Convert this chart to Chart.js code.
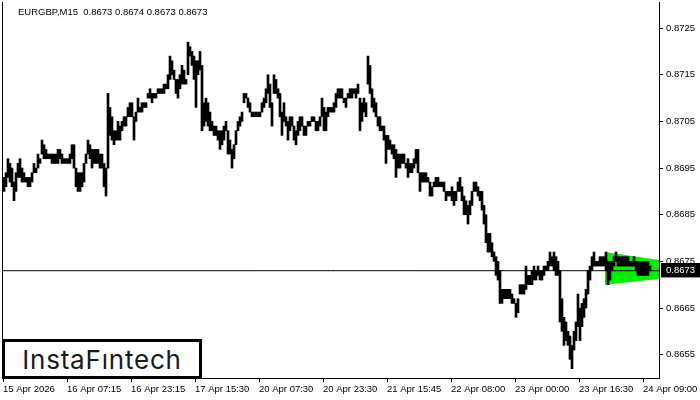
<!DOCTYPE html>
<html>
<head>
<meta charset="utf-8">
<script src="https://cdn.jsdelivr.net/npm/chart.js@4.4.1/dist/chart.umd.min.js"></script>
<style>
  body { margin: 0; background: #fff; }
  .wrap { position: relative; width: 700px; height: 400px; }
  #header { position: absolute; left: 18px; top: 6px; font: 9.5px "Liberation Sans", Arial, sans-serif; white-space: pre; color: #000; }
  #logo { position: absolute; left: 2px; top: 339px; width: 200px; height: 40px; box-sizing: border-box;
          border: 3px solid #000; background: #fff; color: #1a1a1a; font: 400 26px Inter, sans-serif;
          letter-spacing: 0.8px; display: flex; align-items: center; justify-content: center; }
</style>
</head>
<body>
<div class="wrap">
  <canvas id="chart" width="700" height="400"></canvas>
  <div id="header"></div>
  <div id="logo">InstaFıntech</div>
</div>
<script>
const symbolTitle = 'EURGBP,M15';
const lastQuote = [0.8673, 0.8674, 0.8673, 0.8673]; // open high low close

// one bar = 30 minutes, a date label every 16 hours
const barsPerLabel = 32;
const timeLabels = ['15 Apr 2026', '16 Apr 07:15', '16 Apr 23:15', '17 Apr 15:30', '20 Apr 07:30',
  '20 Apr 23:30', '21 Apr 15:45', '22 Apr 08:00', '23 Apr 00:00', '23 Apr 16:30', '24 Apr 09:00'];
const priceTicks = [0.8655, 0.8665, 0.8675, 0.8685, 0.8695, 0.8705, 0.8715, 0.8725];
const priceRange = [0.86500, 0.87306];
const currentPrice = 0.8673;

const highs = [
  0.8693,0.8694,0.8697,0.8696,0.8695,0.8692,0.8694,0.8696,0.8697,0.8695,0.8694,0.8693,
  0.8693,0.8693,0.8694,0.8696,0.8695,0.8698,0.8697,0.8701,0.8700,0.8699,0.8698,0.8698,
  0.8698,0.8698,0.8698,0.8699,0.8699,0.8698,0.8697,0.8697,0.8697,0.8698,0.8700,0.8700,
  0.8695,0.8694,0.8694,0.8694,0.8696,0.8698,0.8701,0.8700,0.8699,0.8699,0.8699,0.8699,
  0.8698,0.8698,0.8696,0.8695,0.8711,0.8708,0.8706,0.8703,0.8703,0.8705,0.8704,0.8705,
  0.8706,0.8706,0.8708,0.8709,0.8709,0.8706,0.8707,0.8710,0.8708,0.8709,0.8709,0.8709,
  0.8711,0.8712,0.8711,0.8711,0.8711,0.8712,0.8712,0.8712,0.8713,0.8713,0.8715,0.8719,
  0.8718,0.8716,0.8714,0.8714,0.8715,0.8717,0.8716,0.8714,0.8722,0.8721,0.8720,0.8719,
  0.8718,0.8718,0.8720,0.8717,0.8709,0.8710,0.8709,0.8707,0.8705,0.8704,0.8704,0.8703,
  0.8703,0.8703,0.8704,0.8705,0.8703,0.8701,0.8699,0.8700,0.8703,0.8705,0.8706,0.8707,
  0.8711,0.8711,0.8710,0.8709,0.8707,0.8707,0.8707,0.8707,0.8707,0.8709,0.8710,0.8712,
  0.8715,0.8713,0.8709,0.8715,0.8714,0.8712,0.8711,0.8707,0.8709,0.8706,0.8705,0.8706,
  0.8706,0.8704,0.8703,0.8705,0.8706,0.8706,0.8704,0.8704,0.8705,0.8705,0.8706,0.8706,
  0.8705,0.8705,0.8706,0.8710,0.8708,0.8707,0.8708,0.8708,0.8708,0.8709,0.8711,0.8712,
  0.8712,0.8712,0.8710,0.8710,0.8711,0.8712,0.8712,0.8712,0.8712,0.8713,0.8710,0.8709,
  0.8710,0.8709,0.8719,0.8717,0.8712,0.8710,0.8709,0.8706,0.8706,0.8704,0.8704,0.8702,
  0.8702,0.8701,0.8700,0.8700,0.8699,0.8698,0.8698,0.8698,0.8698,0.8696,0.8697,0.8696,
  0.8696,0.8697,0.8699,0.8699,0.8694,0.8694,0.8694,0.8694,0.8693,0.8692,0.8691,0.8692,
  0.8693,0.8693,0.8692,0.8692,0.8692,0.8690,0.8690,0.8690,0.8691,0.8690,0.8690,0.8692,
  0.8693,0.8691,0.8689,0.8688,0.8687,0.8688,0.8690,0.8692,0.8692,0.8691,0.8690,0.8690,
  0.8687,0.8685,0.8681,0.8681,0.8679,0.8677,0.8676,0.8675,0.8673,0.8669,0.8669,0.8669,
  0.8669,0.8669,0.8668,0.8667,0.8666,0.8667,0.8670,0.8670,0.8670,0.8674,0.8672,0.8672,
  0.8673,0.8674,0.8673,0.8674,0.8673,0.8673,0.8674,0.8674,0.8675,0.8677,0.8676,0.8677,
  0.8676,0.8675,0.8673,0.8667,0.8663,0.8662,0.8660,0.8659,0.8657,0.8660,0.8662,0.8668,
  0.8665,0.8666,0.8667,0.8669,0.8673,0.8674,0.8676,0.8677,0.8675,0.8675,0.8676,0.8676,
  0.8676,0.8677,0.8675,0.8675,0.8675,0.8676,0.8677,0.8676,0.8676,0.8676,0.8676,0.8676,
  0.8676,0.8675,0.8675,0.8676,0.8675,0.8675,0.8675,0.8675,0.8675,0.8675,0.8675,0.8674
];
const lows = [
  0.8690,0.8691,0.8693,0.8692,0.8691,0.8688,0.8690,0.8693,0.8693,0.8692,0.8692,0.8692,
  0.8691,0.8691,0.8692,0.8694,0.8694,0.8695,0.8696,0.8698,0.8697,0.8697,0.8697,0.8697,
  0.8696,0.8696,0.8696,0.8696,0.8697,0.8696,0.8696,0.8696,0.8696,0.8696,0.8697,0.8695,
  0.8691,0.8690,0.8690,0.8691,0.8692,0.8696,0.8698,0.8697,0.8695,0.8696,0.8696,0.8696,
  0.8695,0.8695,0.8691,0.8689,0.8695,0.8702,0.8701,0.8700,0.8701,0.8701,0.8701,0.8703,
  0.8704,0.8704,0.8706,0.8706,0.8706,0.8701,0.8705,0.8707,0.8707,0.8707,0.8708,0.8708,
  0.8710,0.8710,0.8709,0.8710,0.8710,0.8711,0.8711,0.8711,0.8711,0.8712,0.8712,0.8714,
  0.8715,0.8714,0.8711,0.8710,0.8712,0.8713,0.8713,0.8713,0.8715,0.8719,0.8717,0.8714,
  0.8708,0.8715,0.8716,0.8703,0.8704,0.8705,0.8704,0.8703,0.8703,0.8702,0.8702,0.8701,
  0.8699,0.8700,0.8701,0.8703,0.8698,0.8698,0.8695,0.8697,0.8700,0.8703,0.8704,0.8705,
  0.8709,0.8710,0.8708,0.8707,0.8706,0.8706,0.8706,0.8706,0.8706,0.8707,0.8708,0.8709,
  0.8711,0.8708,0.8704,0.8711,0.8711,0.8710,0.8706,0.8702,0.8705,0.8704,0.8701,0.8703,
  0.8704,0.8701,0.8700,0.8702,0.8703,0.8704,0.8702,0.8702,0.8704,0.8704,0.8705,0.8705,
  0.8703,0.8703,0.8704,0.8706,0.8703,0.8703,0.8706,0.8707,0.8707,0.8707,0.8708,0.8710,
  0.8710,0.8710,0.8709,0.8708,0.8710,0.8710,0.8710,0.8711,0.8710,0.8711,0.8703,0.8705,
  0.8707,0.8706,0.8713,0.8711,0.8708,0.8707,0.8706,0.8704,0.8703,0.8703,0.8701,0.8696,
  0.8699,0.8699,0.8698,0.8697,0.8693,0.8695,0.8695,0.8696,0.8696,0.8695,0.8693,0.8694,
  0.8694,0.8695,0.8696,0.8694,0.8690,0.8692,0.8692,0.8692,0.8692,0.8689,0.8689,0.8691,
  0.8691,0.8691,0.8691,0.8691,0.8690,0.8688,0.8689,0.8689,0.8688,0.8687,0.8688,0.8690,
  0.8690,0.8688,0.8685,0.8685,0.8683,0.8685,0.8687,0.8690,0.8690,0.8689,0.8688,0.8686,
  0.8683,0.8679,0.8677,0.8677,0.8676,0.8675,0.8672,0.8671,0.8666,0.8666,0.8667,0.8667,
  0.8667,0.8667,0.8666,0.8666,0.8663,0.8664,0.8668,0.8668,0.8668,0.8669,0.8670,0.8670,
  0.8670,0.8671,0.8671,0.8672,0.8671,0.8671,0.8672,0.8673,0.8673,0.8674,0.8674,0.8673,
  0.8672,0.8672,0.8662,0.8660,0.8657,0.8658,0.8657,0.8654,0.8652,0.8656,0.8658,0.8661,
  0.8658,0.8661,0.8663,0.8665,0.8668,0.8671,0.8673,0.8674,0.8674,0.8674,0.8674,0.8674,
  0.8674,0.8673,0.8670,0.8671,0.8673,0.8674,0.8675,0.8674,0.8674,0.8674,0.8674,0.8674,
  0.8674,0.8674,0.8674,0.8674,0.8673,0.8672,0.8672,0.8672,0.8672,0.8672,0.8672,0.8673
];

// pennant (flag) pattern: bar span and price bounds at both ends
const flagBars = [300.5, 327.5];
const flagTop = [0.8677, 0.86753];
const flagBottom = [0.8670, 0.86712];

document.getElementById('header').textContent =
  symbolTitle + '  ' + lastQuote.map(v => v.toFixed(4)).join(' ');

const xMin = -1;
const xMax = flagBars[1];
const bars = highs.map((h, i) => ({ x: i, y: [lows[i], h] }));

const leftBorder = {
  id: 'leftBorder',
  afterDraw(chart) {
    const { ctx, chartArea } = chart;
    ctx.save();
    ctx.strokeStyle = '#000';
    ctx.lineWidth = 1;
    ctx.beginPath();
    ctx.moveTo(chartArea.left + 0.5, chartArea.top);
    ctx.lineTo(chartArea.left + 0.5, chartArea.bottom);
    ctx.stroke();
    ctx.restore();
  }
};

Chart.defaults.font.family = '"Liberation Sans", Arial, sans-serif';
Chart.defaults.color = '#000';

new Chart(document.getElementById('chart'), {
  type: 'bar',
  data: {
    datasets: [
      { type: 'bar', data: bars, backgroundColor: '#000', borderWidth: 0, barThickness: 2, order: 1 },
      { type: 'line', data: [{ x: xMin, y: currentPrice }, { x: xMax, y: currentPrice }],
        borderColor: '#000', borderWidth: 1, pointRadius: 0, order: 2 },
      { type: 'line', data: [{ x: flagBars[0], y: flagTop[0] }, { x: flagBars[1], y: flagTop[1] }],
        borderColor: 'rgba(0,0,0,0)', pointRadius: 0, fill: false, order: 4 },
      { type: 'line', data: [{ x: flagBars[0], y: flagBottom[0] }, { x: flagBars[1], y: flagBottom[1] }],
        borderColor: 'rgba(0,0,0,0)', pointRadius: 0, fill: '-1', backgroundColor: '#00f000', order: 3 }
    ]
  },
  options: {
    responsive: false,
    animation: false,
    devicePixelRatio: 1,
    layout: { padding: { left: 2, top: 2, right: 0, bottom: 0 } },
    plugins: { legend: { display: false }, tooltip: { enabled: false } },
    scales: {
      x: {
        type: 'linear', min: xMin, max: xMax, offset: false,
        afterBuildTicks: s => { s.ticks = timeLabels.map((_, k) => ({ value: k * barsPerLabel - 0.5 })); },
        afterFit: s => { s.height = 22; s.paddingLeft = 0; s.paddingRight = 0; },
        ticks: { autoSkip: false, maxRotation: 0, align: 'start', padding: 2,
                 font: { size: 9.5 }, callback: (v, k) => timeLabels[k] },
        grid: { drawOnChartArea: false, offset: false, tickLength: 4, color: '#000' },
        border: { display: true, color: '#000' }
      },
      y: {
        position: 'right', min: priceRange[0], max: priceRange[1],
        afterBuildTicks: s => { s.ticks = priceTicks.concat([currentPrice]).map(v => ({ value: v })); },
        afterFit: s => { s.width = 41; s.paddingTop = 0; s.paddingBottom = 0; },
        ticks: {
          autoSkip: false, padding: 3, font: { size: 9.5 },
          color: c => c.tick && c.tick.value === currentPrice ? '#fff' : '#000',
          showLabelBackdrop: c => !!(c.tick && c.tick.value === currentPrice),
          backdropColor: '#000',
          backdropPadding: { top: 2, bottom: 1, left: 5, right: 8 },
          callback: v => v.toFixed(4)
        },
        grid: { drawOnChartArea: false, tickLength: 4, color: '#000',
                tickColor: c => c.tick && c.tick.value === currentPrice ? 'rgba(0,0,0,0)' : '#000' },
        border: { display: true, color: '#000' }
      }
    }
  },
  plugins: [leftBorder]
});
</script>
</body>
</html>
